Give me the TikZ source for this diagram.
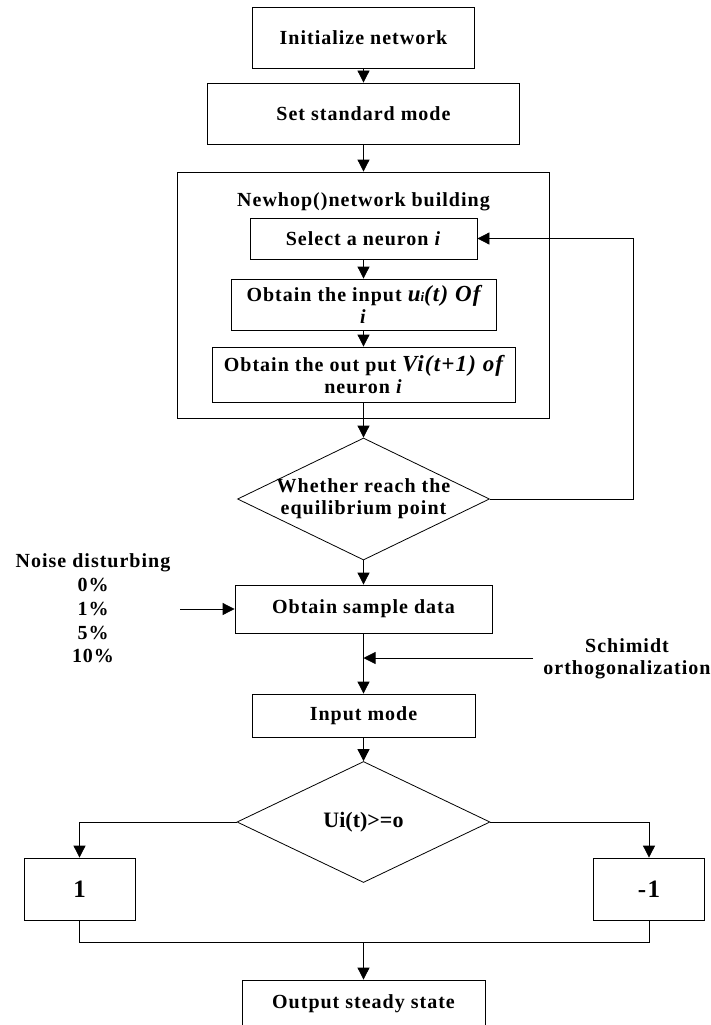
\documentclass[tikz,border=0pt]{standalone}
\usepackage{fontspec}
\setmainfont{Liberation Serif}[LetterSpace=5]
\newfontfamily\tightserif{Liberation Serif}
\usetikzlibrary{shapes.geometric, arrows.meta, positioning}
\newcommand{\boxfont}{\fontsize{20}{22}\selectfont\bfseries}
\newcommand{\bigital}{\fontsize{23}{22}\selectfont\itshape}
\tikzset{
    procbox/.style={rectangle, draw=black, line width=0.8pt, align=center, inner sep=0pt, font=\boxfont},
    valuebox/.style={rectangle, draw=black, line width=0.8pt, minimum width=111pt, minimum height=62pt,
        inner sep=0pt, font=\fontsize{25}{25}\selectfont\bfseries},
    decisionbox/.style={diamond, draw=black, line width=0.8pt, inner sep=0pt},
    plaintext/.style={align=center, inner sep=0pt, font=\boxfont},
    flowarrow/.style={-{Triangle[length=12pt, width=12pt]}, line width=0.8pt},
    flowline/.style={line width=0.8pt},
}

\begin{document}
\begin{tikzpicture}[x=1pt, y=-1pt]
    \useasboundingbox (0,0) rectangle (711,1025);
    \clip (0,0) rectangle (711,1025);

    % network building part
    \node[procbox, minimum width=222pt, minimum height=61pt] (init) at (363.5,37.5) {Initialize network};
    \node[procbox, minimum width=312pt, minimum height=61pt] (mode) at (363.5,113.5) {Set standard mode};
    \node[procbox, minimum width=372pt, minimum height=246pt] (build) at (363.5,295) {};
    \node[plaintext] (buildtitle) at (363.5,202) {Newhop()network building};
    \node[procbox, minimum width=227pt, minimum height=41pt] (select) at (363.5,238.5) {Select a neuron \textit{i}};
    \node[procbox, minimum width=265pt, minimum height=51pt] (input) at (363.5,304.5)
        {Obtain the input {\bigital u{\fontsize{13}{13}\selectfont i}(t) Of}\\\textit{i}};
    \node[procbox, minimum width=303pt, minimum height=55pt] (output) at (363.5,374.5)
        {Obtain the out put {\bigital Vi(t+1) of}\\neuron \textit{i}};
    \node[decisionbox, minimum width=252pt, minimum height=122pt] (equil) at (363.5,499) {};
    \node[plaintext] (equiltext) at (equil) {Whether reach the\\equilibrium point};
    \coordinate (loopcorner) at (633,499);

    % sample and test part
    \node[procbox, minimum width=257pt, minimum height=48pt] (sample) at (363.5,609) {Obtain sample data};
    \node[plaintext, font=\fontsize{20}{23.7}\selectfont\bfseries] (noise) at (93,608.5)
        {Noise disturbing\\0\%\\1\%\\5\%\\10\%};
    \coordinate (noisein) at (180,609);
    \node[plaintext] (schmidt) at (627,659) {Schimidt\\orthogonalization};
    \coordinate (schmidtin) at (533,658);
    \coordinate (schmidtjoin) at (363.5,658);
    \node[procbox, minimum width=223pt, minimum height=43pt] (inmode) at (363.5,715.5) {Input mode};
    \node[decisionbox, minimum width=253pt, minimum height=121pt,
        font=\tightserif\fontsize{22}{22}\selectfont\bfseries] (sign) at (363.5,822) {Ui(t)>=o};
    \node[valuebox] (one) at (79.5,889) {1};
    \node[valuebox] (minusone) at (649,889) {-1};
    \coordinate (merge) at (363.5,942);
    \node[procbox, minimum width=243pt, minimum height=48pt] (steady) at (363.5,1004) {Output steady state};

    \draw[flowarrow] (init) -- (mode);
    \draw[flowarrow] (mode) -- (build);
    \draw[flowarrow] (select) -- (input);
    \draw[flowarrow] (input) -- (output);
    \draw[flowarrow] (output) -- (equil);
    \draw[flowarrow] (equil.east) -- (loopcorner) |- (select.east);
    \draw[flowarrow] (equil) -- (sample);
    \draw[flowarrow] (noisein) -- (sample.west);
    \draw[flowarrow] (sample) -- (inmode);
    \draw[flowarrow] (schmidtin) -- (schmidtjoin);
    \draw[flowarrow] (inmode) -- (sign);
    \draw[flowarrow] (sign.west) -| (one.north);
    \draw[flowarrow] (sign.east) -| (minusone.north);
    \draw[flowline] (one.south) |- (merge) -| (minusone.south);
    \draw[flowarrow] (merge) -- (steady);
\end{tikzpicture}
\end{document}
